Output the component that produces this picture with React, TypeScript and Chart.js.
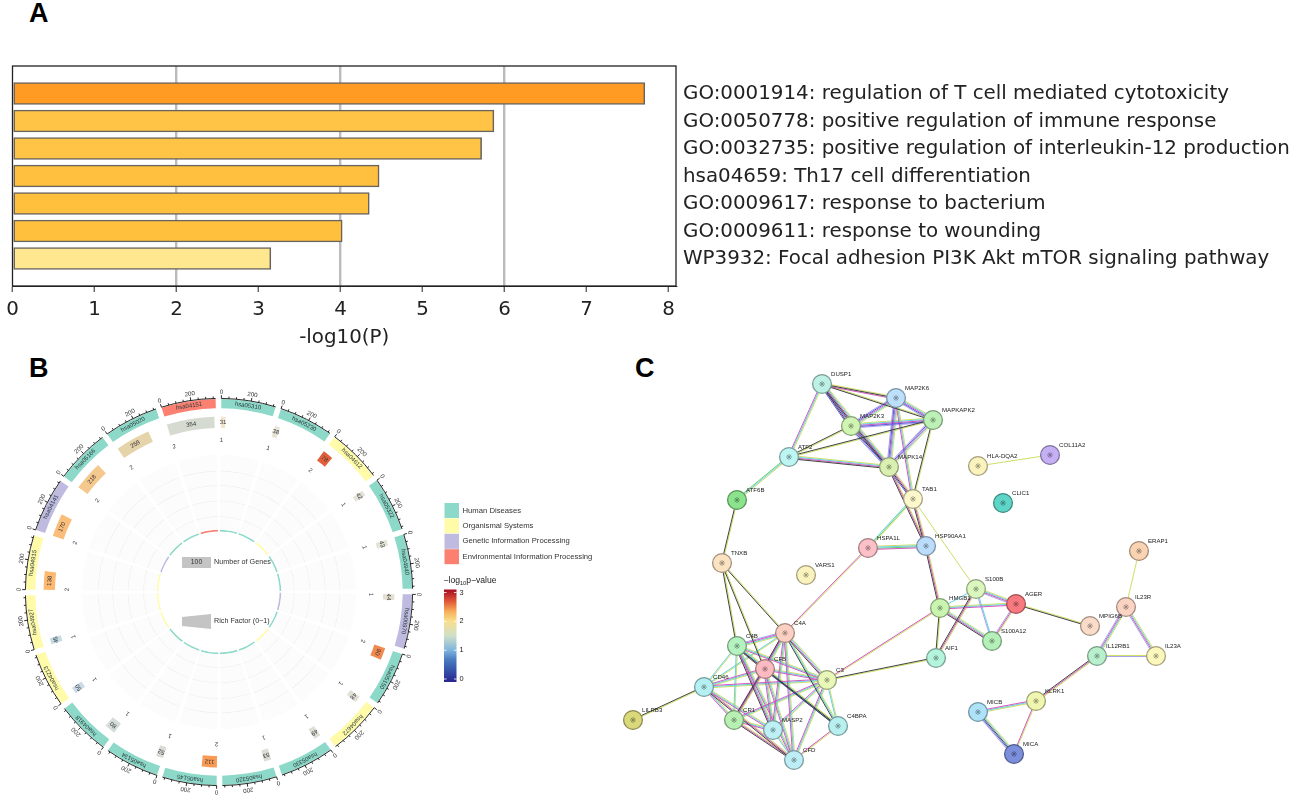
import React, { useEffect, useRef } from "react";
import { Chart, registerables } from "chart.js";

Chart.register(...registerables);

/* ---------- Panel A data ---------- */
const termLabels = [
  "GO:0001914: regulation of T cell mediated cytotoxicity",
  "GO:0050778: positive regulation of immune response",
  "GO:0032735: positive regulation of interleukin-12 production",
  "hsa04659: Th17 cell differentiation",
  "GO:0009617: response to bacterium",
  "GO:0009611: response to wounding",
  "WP3932: Focal adhesion PI3K Akt mTOR signaling pathway",
];
const termValues = [7.71, 5.87, 5.72, 4.47, 4.35, 4.02, 3.15];
const termColors = ["#FF9A22", "#FFC445", "#FFC445", "#FFC040", "#FFC03E", "#FFC03E", "#FFE78F"];

/* ---------- Panel B data ---------- */
const pathways = [
  "hsa05310", "hsa05230", "hsa04612", "hsa05322", "hsa04940", "hsa00970", "hsa05150", "hsa04672", "hsa05330", "hsa05320",
  "hsa05145", "hsa05134", "hsa04918", "hsa04213", "hsa04927", "hsa04915", "hsa04141", "hsa05166", "hsa05020", "hsa04151",
];
const pathwayGroups = [0, 0, 1, 0, 0, 2, 0, 1, 0, 0, 0, 0, 0, 1, 1, 1, 2, 0, 0, 3];
const geneCounts = [31, 38, 78, 42, 43, 44, 90, 48, 49, 53, 112, 52, 80, 50, 45, 138, 170, 218, 259, 354];
const pLabels = [1, 1, 2, 1, 1, 1, 2, 1, 1, 1, 2, 1, 1, 1, 1, 2, 2, 2, 2, 2];
const geneColors = [
  "#F1E4CB", "#E7E4D5", "#E0603C", "#E5E3D8", "#E3E3D5", "#E5E1D2", "#F28A50", "#E0E0D8", "#DDDDD5", "#DCDDD5",
  "#F99A55", "#D9DDD5", "#D4DDD8", "#CADCE8", "#C5DCE5", "#FDB96E", "#FBBE7A", "#F5C88E", "#E5D3AA", "#D5DBD0",
];
const groupNames = ["Human Diseases", "Organismal Systems", "Genetic Information Processing", "Environmental Information Processing"];
const groupColors = ["#8DD9C9", "#FFFBA8", "#BEBAE0", "#FB8072"];
const scaleTickValues = [0, 50, 100, 150, 200, 250, 300, 350];
const colorbarTicks = [0, 1, 2, 3];
const SECTOR_UNITS = 366;
const GAP_UNITS = 38;

/* ---------- Panel C data ---------- */
const nodeNames = [
  "DUSP1", "MAP2K6", "MAPKAPK2", "MAP2K3", "ATF2", "MAPK14", "ATF6B", "TAB1", "HSPA1L", "HSP90AA1",
  "TNXB", "VARS1", "HLA-DQA2", "COL11A2", "CLIC1", "S100B", "AGER", "HMGB1", "S100A12", "AIF1",
  "MPIG6B", "IL23R", "ERAP1", "IL12RB1", "IL23A", "KLRK1", "MICB", "MICA", "C4A", "C4B",
  "CFB", "C3", "CD46", "CR1", "MASP2", "C4BPA", "CFD", "LILRB3",
];
const nodeX = [
  822, 896, 933, 851, 789, 889, 737, 913, 868, 926,
  722, 806, 978, 1050, 1003, 976, 1016, 940, 992, 936,
  1090, 1126, 1139, 1097, 1156, 1036, 978, 1014, 785, 737,
  765, 827, 704, 734, 773, 838, 794, 633,
];
const nodeY = [
  384, 398, 420, 426, 457, 467, 500, 499, 548, 546,
  563, 575, 466, 455, 503, 589, 604, 608, 641, 658,
  626, 607, 551, 656, 656, 701, 712, 754, 633, 646,
  669, 680, 687, 720, 730, 726, 760, 720,
];
const nodeColors = [
  "#BDF1E6", "#BCE0FB", "#BDF0B6", "#D0F5B2", "#BCF5F2", "#DAF0B0", "#8BE38B", "#FCF8CC", "#FBC0C8", "#BBDDFB",
  "#FBE2C0", "#FBF3BE", "#FBF3BE", "#C5AFF5", "#5FD5C8", "#DCF7BE", "#F87A80", "#C9F5B0", "#B4F0B8", "#B5F4DC",
  "#FADCC8", "#FBD3C3", "#FAD3B3", "#B8F0CE", "#FCF7BC", "#F0F5B0", "#AEE2F8", "#7B8FDD", "#FBD0C3", "#B4F2C0",
  "#FBB9C0", "#E9F8B8", "#B5F0F3", "#B8F0B4", "#BCF0F5", "#B8F0F0", "#BDEEF5", "#D9D87A",
];
// node A, node B, evidence channels
const edgeList: [string, string, string][] = [
  ["DUSP1", "MAP2K6", "tkm"], ["DUSP1", "MAPKAPK2", "tk"], ["DUSP1", "MAP2K3", "tdmkb"], ["DUSP1", "ATF2", "tdm"],
  ["DUSP1", "MAPK14", "tdmkb"], ["MAP2K6", "MAPKAPK2", "tdmbh"], ["MAP2K6", "MAP2K3", "tdmbh"], ["MAP2K6", "MAPK14", "tdmbh"],
  ["MAP2K6", "TAB1", "tdm"], ["MAP2K3", "MAPKAPK2", "tdmbh"], ["MAP2K3", "MAPK14", "tdmkbh"], ["MAP2K3", "ATF2", "tk"],
  ["MAPKAPK2", "MAPK14", "tdmbh"], ["MAPKAPK2", "ATF2", "tk"], ["MAPKAPK2", "TAB1", "tk"], ["ATF2", "MAPK14", "tdmk"],
  ["ATF2", "ATF6B", "tdg"], ["ATF6B", "TNXB", "tk"], ["MAPK14", "TAB1", "tmkb"], ["MAPK14", "HSP90AA1", "tmk"],
  ["TAB1", "HSP90AA1", "tmk"], ["TAB1", "HSPA1L", "tgd"], ["TAB1", "S100B", "t"], ["HSPA1L", "HSP90AA1", "tdgm"],
  ["HSPA1L", "C4A", "tm"], ["HSP90AA1", "HMGB1", "tmk"], ["HMGB1", "S100B", "d"], ["HMGB1", "AGER", "tdm"],
  ["HMGB1", "S100A12", "tdmk"], ["HMGB1", "AIF1", "tk"], ["HMGB1", "C3", "tm"], ["S100B", "AGER", "tdmh"],
  ["S100B", "S100A12", "dh"], ["S100B", "AIF1", "tmk"], ["AGER", "S100A12", "tmh"], ["AGER", "MPIG6B", "tk"],
  ["AIF1", "C3", "tk"], ["HLA-DQA2", "COL11A2", "t"], ["IL23R", "ERAP1", "t"], ["IL23R", "IL12RB1", "tdmh"],
  ["IL23R", "IL23A", "tdmh"], ["IL12RB1", "IL23A", "th"], ["IL12RB1", "KLRK1", "tmk"], ["KLRK1", "MICB", "tdm"],
  ["KLRK1", "MICA", "tm"], ["MICB", "MICA", "tdkbh"], ["TNXB", "C4A", "tk"], ["TNXB", "C4B", "tk"],
  ["TNXB", "CFB", "tk"], ["C4A", "C4B", "tdmh"], ["C4A", "CFB", "tdmk"], ["C4A", "C3", "tdmk"],
  ["C4A", "CD46", "td"], ["C4A", "CR1", "tdm"], ["C4A", "MASP2", "tdm"], ["C4A", "C4BPA", "tdk"],
  ["C4A", "CFD", "tdm"], ["C4B", "CFB", "tdmk"], ["C4B", "C3", "tdm"], ["C4B", "CD46", "td"],
  ["C4B", "CR1", "td"], ["C4B", "MASP2", "tdmk"], ["C4B", "C4BPA", "tdk"], ["C4B", "CFD", "tdm"],
  ["CFB", "C3", "tdm"], ["CFB", "CD46", "tdm"], ["CFB", "CR1", "tmk"], ["CFB", "MASP2", "tdm"],
  ["CFB", "C4BPA", "tkb"], ["CFB", "CFD", "tdm"], ["C3", "CD46", "tdm"], ["C3", "CR1", "tdm"],
  ["C3", "MASP2", "tdm"], ["C3", "C4BPA", "td"], ["C3", "CFD", "tdm"], ["CD46", "CR1", "tdm"],
  ["CD46", "MASP2", "tdm"], ["CD46", "CFD", "tmk"], ["CR1", "MASP2", "tdm"], ["CR1", "CFD", "tmk"],
  ["MASP2", "CFD", "td"], ["C4BPA", "CFD", "tm"], ["CD46", "LILRB3", "tk"],
];
const channelOrder = ["t", "g", "d", "h", "m", "b", "k"];
const channelColors: Record<string, string> = {
  t: "#CBDC5C", g: "#62C86A", d: "#5CD0E0", h: "#A29CE8", m: "#D24FBA", b: "#5250DC", k: "#383838",
};

const SANS = '"Liberation Sans", Arial, sans-serif';
const DEJAVU = '"DejaVu Sans", sans-serif';

function darken(hex: string, f: number) {
  const n = parseInt(hex.slice(1), 16);
  const c = [(n >> 16) & 255, (n >> 8) & 255, n & 255].map((v) => Math.round(v * f));
  return `rgb(${c[0]},${c[1]},${c[2]})`;
}

function buildA(canvas: HTMLCanvasElement) {
  const frame = {
    id: "frame",
    afterDraw(chart: any) {
      const { ctx, chartArea: a } = chart;
      ctx.save();
      ctx.strokeStyle = "#222";
      ctx.lineWidth = 1.3;
      ctx.strokeRect(a.left, a.top, a.right - a.left, a.bottom - a.top);
      ctx.restore();
    },
  };
  return new Chart(canvas, {
    type: "bar",
    plugins: [frame],
    data: {
      datasets: [
        {
          data: termValues.map((v, i) => ({ x: v, y: i })),
          backgroundColor: termColors,
          borderColor: "#6A6460",
          borderWidth: 1.6,
          borderSkipped: false,
          barThickness: 22,
        } as any,
      ],
    },
    options: {
      indexAxis: "y",
      animation: false,
      responsive: false,
      layout: { autoPadding: false, padding: { left: 12.5, top: 16, right: 0, bottom: 0 } },
      plugins: { legend: { display: false }, tooltip: { enabled: false } },
      scales: {
        x: {
          type: "linear",
          min: 0,
          max: 8.09,
          afterFit: (s: any) => { s.height = 64; },
          border: { color: "#222" },
          ticks: { stepSize: 1, includeBounds: false, maxRotation: 0, padding: 6, color: "#222", font: { family: DEJAVU, size: 19.85 } },
          grid: {
            color: (c: any) => ([2, 4, 6].includes(c.tick?.value) ? "#BBBBBB" : "rgba(0,0,0,0)"),
            lineWidth: 2.4,
            tickColor: "#222",
            tickWidth: 1,
            tickLength: 6,
          },
          title: { display: true, text: "-log10(P)", color: "#222", padding: { top: 0, bottom: 0 }, font: { family: DEJAVU, size: 19.85 } },
        },
        y: {
          type: "linear",
          position: "right",
          offset: false,
          min: -1,
          max: 7,
          reverse: true,
          afterFit: (s: any) => { s.width = 623; s.paddingTop = 0; s.paddingBottom = 0; },
          border: { display: false },
          grid: { display: false, drawTicks: false, offset: false },
          ticks: {
            stepSize: 1,
            autoSkip: false,
            padding: 7,
            labelOffset: 0.5,
            color: "#222",
            crossAlign: "near",
            font: { family: DEJAVU, size: 19.85 },
            callback: (v: any) => termLabels[v] ?? "",
          },
        },
      },
    } as any,
  });
}

function buildB(canvas: HTMLCanvasElement) {
  const perSector = (colors: string[]) => colors.flatMap((c) => [c, "rgba(0,0,0,0)"]);
  const sectorData = pathways.flatMap(() => [SECTOR_UNITS, GAP_UNITS]);
  const clear = pathways.map(() => "rgba(0,0,0,0)");
  const bandColors = pathwayGroups.map((g) => groupColors[g]);
  const track = pathways.map(() => "#FCFCFC");
  const line = pathways.map(() => "#F0F0F0");
  const ring = (data: number[], colors: string[], weight: number) => ({
    data, backgroundColor: colors, weight, borderWidth: 0,
  });
  const geneData = geneCounts.flatMap((c) => [c, SECTOR_UNITS + GAP_UNITS - c]);

  const decorate = {
    id: "decorate",
    afterDraw(chart: any) {
      const { ctx } = chart;
      const outer = chart.getDatasetMeta(0).data;
      const genes = chart.getDatasetMeta(2).data;
      const cx = outer[0].x;
      const cy = outer[0].y;
      const R = outer[0].outerRadius;
      const unitAngle = (outer[0].endAngle - outer[0].startAngle) / SECTOR_UNITS;
      const polarText = (txt: string, r: number, a: number, font: string, color: string) => {
        ctx.save();
        ctx.translate(cx + r * Math.cos(a), cy + r * Math.sin(a));
        ctx.rotate(a + Math.PI / 2);
        ctx.font = font;
        ctx.fillStyle = color;
        ctx.textAlign = "center";
        ctx.textBaseline = "middle";
        ctx.fillText(txt, 0, 0);
        ctx.restore();
      };
      pathways.forEach((name, i) => {
        const arc = outer[i * 2];
        const a0 = arc.startAngle;
        ctx.save();
        ctx.strokeStyle = "#111";
        ctx.lineWidth = 0.9;
        ctx.beginPath();
        ctx.arc(cx, cy, R + 0.6, a0, arc.endAngle);
        ctx.stroke();
        scaleTickValues.forEach((t) => {
          const a = a0 + t * unitAngle;
          const len = t % 200 === 0 ? 3.2 : 2;
          ctx.beginPath();
          ctx.moveTo(cx + (R + 0.6) * Math.cos(a), cy + (R + 0.6) * Math.sin(a));
          ctx.lineTo(cx + (R + 0.6 + len) * Math.cos(a), cy + (R + 0.6 + len) * Math.sin(a));
          ctx.stroke();
        });
        ctx.restore();
        polarText("0", R + 7, a0, `6.2px ${SANS}`, "#333");
        polarText("200", R + 7, a0 + 200 * unitAngle, `6.2px ${SANS}`, "#333");
        polarText(name, (arc.innerRadius + arc.outerRadius) / 2, (a0 + arc.endAngle) / 2, `6px ${SANS}`, "#2A3A3A");
        const g = genes[i * 2];
        polarText(String(geneCounts[i]), (g.innerRadius + g.outerRadius) / 2, (g.startAngle + g.endAngle) / 2, `6px ${SANS}`, "#333");
        polarText(String(pLabels[i]), 152, a0 + 20 * unitAngle * 0.2, `6px ${SANS}`, "#333");
      });

      // centre keys
      ctx.save();
      ctx.fillStyle = "#C4C4C4";
      ctx.fillRect(cx - 37, cy - 35, 29, 11);
      ctx.beginPath();
      ctx.moveTo(cx - 37, cy + 25);
      ctx.lineTo(cx - 8, cy + 22);
      ctx.lineTo(cx - 8, cy + 37);
      ctx.lineTo(cx - 37, cy + 34);
      ctx.closePath();
      ctx.fill();
      ctx.font = `6.8px ${SANS}`;
      ctx.fillStyle = "#333";
      ctx.textBaseline = "middle";
      ctx.textAlign = "center";
      ctx.fillText("100", cx - 22.5, cy - 29.5);
      ctx.textAlign = "left";
      ctx.font = `7.2px ${SANS}`;
      ctx.fillText("Number of Genes", cx - 5, cy - 29.5);
      ctx.fillText("Rich Factor (0~1)", cx - 5, cy + 29);
      ctx.restore();

      // legend, relative to the space right of the circle
      const lx = cx + 225.5;
      const ly = cy - 89;
      ctx.save();
      groupNames.forEach((n, i) => {
        ctx.fillStyle = groupColors[i];
        ctx.fillRect(lx, ly + i * 15.4, 14.5, 15);
        ctx.fillStyle = "#333";
        ctx.font = `7.7px ${SANS}`;
        ctx.textAlign = "left";
        ctx.textBaseline = "middle";
        ctx.fillText(n, lx + 18, ly + i * 15.4 + 7.5);
      });
      // colorbar title
      const ty = cy - 11;
      ctx.fillStyle = "#222";
      ctx.textBaseline = "middle";
      ctx.font = `8.6px ${SANS}`;
      let tx = lx - 1;
      ctx.fillText("\u2212log", tx, ty);
      tx += ctx.measureText("\u2212log").width;
      ctx.font = `5.6px ${SANS}`;
      ctx.fillText("10", tx, ty + 2.5);
      tx += ctx.measureText("10").width;
      ctx.font = `8.6px ${SANS}`;
      ctx.fillText("p\u2212value", tx, ty);
      // colorbar
      const barTop = cy - 2.5;
      const barH = 92.5;
      const grad = ctx.createLinearGradient(0, barTop + barH, 0, barTop);
      [
        [0, "#29248F"], [0.12, "#3550A8"], [0.24, "#4A7CC0"], [0.34, "#7DB3DD"], [0.5, "#CFE0C8"],
        [0.66, "#F9DE8C"], [0.76, "#F6B05C"], [0.86, "#E5603A"], [1, "#A50A24"],
      ].forEach(([o, c]: any) => grad.addColorStop(o, c));
      ctx.fillStyle = grad;
      ctx.fillRect(lx - 0.5, barTop, 12.5, barH);
      colorbarTicks.forEach((v) => {
        const y = barTop + barH - 3 - (v / 3) * (barH - 6);
        ctx.fillStyle = "#fff";
        ctx.fillRect(lx - 0.5, y - 0.4, 2.6, 0.8);
        ctx.fillRect(lx + 9.4, y - 0.4, 2.6, 0.8);
        ctx.fillStyle = "#222";
        ctx.font = `7.4px ${SANS}`;
        ctx.fillText(String(v), lx + 15, y);
      });
      ctx.restore();
    },
  };

  return new Chart(canvas, {
    type: "doughnut",
    plugins: [decorate],
    data: {
      labels: pathways.flatMap((p) => [p, ""]),
      datasets: [
        ring(sectorData, perSector(bandColors), 9),
        ring(sectorData, perSector(clear), 8),
        ring(geneData, perSector(geneColors), 11),
        ring(sectorData, perSector(clear), 26),
        ring(sectorData, perSector(track), 15.2),
        ring(sectorData, perSector(line), 0.9),
        ring(sectorData, perSector(track), 13.1),
        ring(sectorData, perSector(line), 0.9),
        ring(sectorData, perSector(track), 14.1),
        ring(sectorData, perSector(line), 0.9),
        ring(sectorData, perSector(track), 14.1),
        ring(sectorData, perSector(line), 0.9),
        ring(sectorData, perSector(track), 12.3),
        ring(sectorData, perSector(bandColors), 1.6),
      ] as any,
    },
    options: {
      animation: false,
      responsive: false,
      rotation: 0.7,
      radius: 193,
      cutout: 65,
      layout: { padding: { left: 12, right: 194, top: 15, bottom: 0 } },
      plugins: { legend: { display: false }, tooltip: { enabled: false } },
    } as any,
  });
}

function buildC(canvas: HTMLCanvasElement) {
  const idx = (n: string) => nodeNames.indexOf(n);
  const channelData = (ch: string) => {
    const pts: { x: number; y: number }[] = [];
    edgeList.forEach(([a, b, ev]) => {
      const pos = ev.indexOf(ch);
      if (pos < 0) return;
      const ia = idx(a);
      const ib = idx(b);
      const dx = nodeX[ib] - nodeX[ia];
      const dy = nodeY[ib] - nodeY[ia];
      const len = Math.hypot(dx, dy) || 1;
      const off = (pos - (ev.length - 1) / 2) * 1.05;
      const ox = (-dy / len) * off;
      const oy = (dx / len) * off;
      pts.push({ x: nodeX[ia] + ox, y: nodeY[ia] + oy }, { x: nodeX[ib] + ox, y: nodeY[ib] + oy }, { x: NaN, y: NaN });
    });
    return pts;
  };
  const points = nodeNames.map((_, i) => ({ x: nodeX[i], y: nodeY[i] }));
  const labelsPlugin = {
    id: "nodeLabels",
    afterDraw(chart: any) {
      const { ctx } = chart;
      const xs = chart.scales.x;
      const ys = chart.scales.y;
      ctx.save();
      ctx.font = `6.1px ${SANS}`;
      ctx.fillStyle = "#222";
      ctx.textBaseline = "middle";
      nodeNames.forEach((n, i) => {
        ctx.fillText(n, xs.getPixelForValue(nodeX[i]) + 9, ys.getPixelForValue(nodeY[i]) - 10);
      });
      ctx.restore();
    },
  };
  return new Chart(canvas, {
    type: "scatter",
    plugins: [labelsPlugin],
    data: {
      datasets: [
        {
          data: points,
          pointStyle: "star",
          pointRadius: 3,
          pointBorderWidth: 0.8,
          pointBackgroundColor: nodeColors.map((c) => darken(c, 0.6)),
          pointBorderColor: nodeColors.map((c) => darken(c, 0.6)),
          showLine: false,
        },
        {
          data: points,
          pointRadius: 9.4,
          pointBorderWidth: 1.3,
          pointBackgroundColor: nodeColors,
          pointBorderColor: nodeColors.map((c) => darken(c, 0.65)),
          showLine: false,
        },
        ...channelOrder
          .slice()
          .reverse()
          .map((ch) => ({
            data: channelData(ch),
            showLine: true,
            spanGaps: false,
            pointRadius: 0,
            borderColor: channelColors[ch],
            borderWidth: 0.95,
            tension: 0,
          })),
      ] as any,
    },
    options: {
      animation: false,
      responsive: false,
      layout: { autoPadding: false, padding: 0 },
      plugins: { legend: { display: false }, tooltip: { enabled: false } },
      scales: {
        x: { type: "linear", display: false, min: 620, max: 1299 },
        y: { type: "linear", display: false, min: 360, max: 799, reverse: true },
      },
    } as any,
  });
}

const panelLabel = (left: number, top: number): React.CSSProperties => ({
  position: "absolute",
  left,
  top,
  font: `bold 27px/27px ${SANS}`,
  color: "#000",
});

export default function App() {
  const a = useRef<HTMLCanvasElement>(null);
  const b = useRef<HTMLCanvasElement>(null);
  const c = useRef<HTMLCanvasElement>(null);
  useEffect(() => {
    const charts = [buildA(a.current!), buildB(b.current!), buildC(c.current!)];
    return () => charts.forEach((ch) => ch.destroy());
  }, []);
  return (
    <div style={{ position: "absolute", left: 0, top: 0, width: 1299, height: 799, overflow: "hidden", background: "#fff" }}>
      <div style={panelLabel(29, 0)}>A</div>
      <div style={panelLabel(29, 355)}>B</div>
      <div style={panelLabel(635, 355)}>C</div>
      <canvas ref={a} width={1299} height={300} style={{ position: "absolute", left: 0, top: 50 }} />
      <canvas ref={b} width={620} height={429} style={{ position: "absolute", left: 0, top: 370, filter: "blur(0.35px)" }} />
      <canvas ref={c} width={679} height={439} style={{ position: "absolute", left: 620, top: 360, filter: "blur(0.35px)" }} />
    </div>
  );
}
